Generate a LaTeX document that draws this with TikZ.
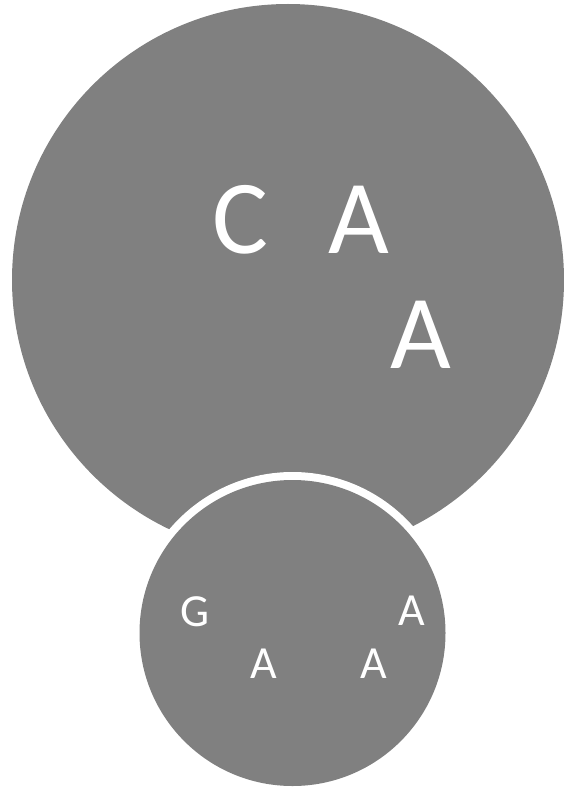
\documentclass[tikz,border=0pt]{standalone}
\usepackage{fontspec}
\setmainfont{Carlito}
\begin{document}
\begin{tikzpicture}[x=1pt,y=-1pt,
  blob/.style={fill=black!50, draw=none},
  ring/.style={fill=white, draw=none},
  bigletter/.style={text=white, inner sep=0pt, anchor=base, font=\fontsize{105}{110}\selectfont},
  smallletter/.style={text=white, inner sep=0pt, anchor=base, font=\fontsize{46}{50}\selectfont}]
\useasboundingbox (0,0) rectangle (563,789);
\fill[blob] (288,280) circle[radius=276];
\fill[ring] (292.5,633) circle[radius=161];
\fill[blob] (292.5,633) circle[radius=153];
\node[bigletter] (c1) at (240,253) {C};
\node[bigletter] (a1) at (359,253) {A};
\node[bigletter] (a2) at (421,368) {A};
\node[smallletter] (g1) at (195.5,626) {G};
\node[smallletter] (a3) at (412,625) {A};
\node[smallletter] (a4) at (263.5,678) {A};
\node[smallletter] (a5) at (373.5,678) {A};
\end{tikzpicture}
\end{document}
